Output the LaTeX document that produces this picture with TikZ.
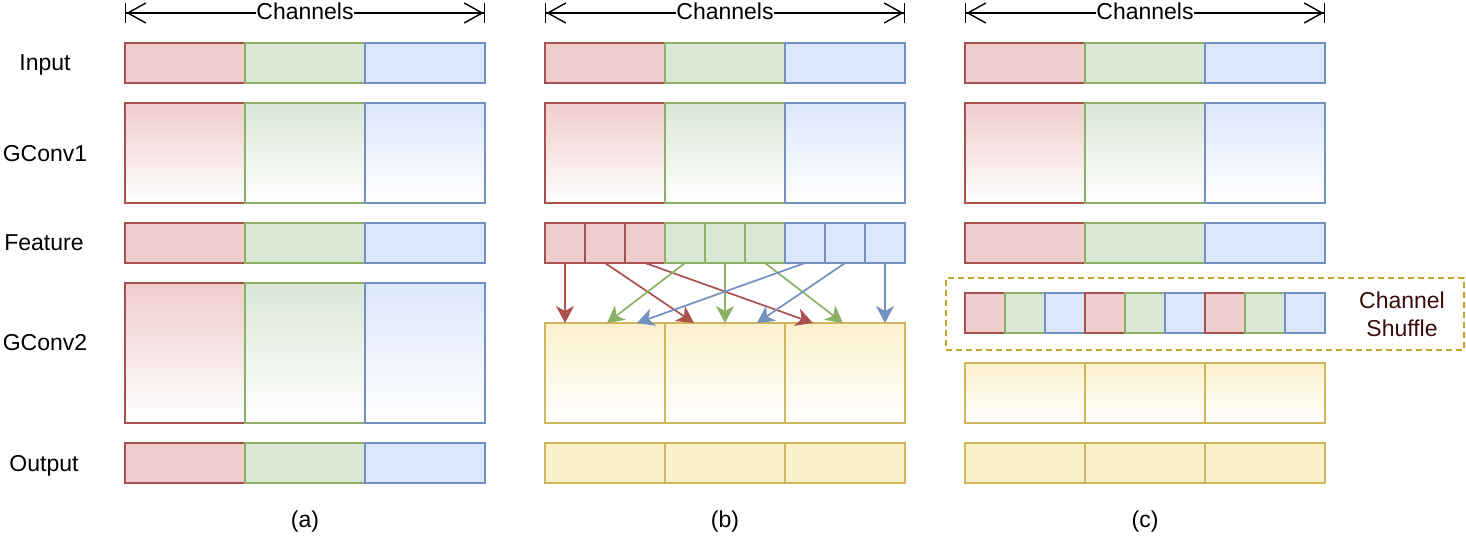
\documentclass[tikz,border=0pt]{standalone}
\usepackage{fontspec}
\setmainfont{Liberation Sans}
\usetikzlibrary{arrows.meta,calc}
\definecolor{rfill}{HTML}{EFCDCC}
\definecolor{rline}{HTML}{A8514F}
\definecolor{gfill}{HTML}{DAE7D5}
\definecolor{gline}{HTML}{8AB166}
\definecolor{bfill}{HTML}{DCE7FB}
\definecolor{bline}{HTML}{7390C0}
\definecolor{yfill}{HTML}{FBF0CC}
\definecolor{yline}{HTML}{D3B65C}
\definecolor{dashcol}{HTML}{C8A02A}
\definecolor{shuftext}{HTML}{3A0B0B}
\tikzset{
  cell/.style 2 args={draw, line width=1.7pt, inner sep=0pt, outer sep=0pt,
    anchor=north west, minimum width=#1pt, minimum height=#2pt},
  rf/.style={draw=rline, fill=rfill},
  gf/.style={draw=gline, fill=gfill},
  bf/.style={draw=bline, fill=bfill},
  yf/.style={draw=yline, fill=yfill},
  rgr/.style={draw=rline, top color=rfill, bottom color=white},
  ggr/.style={draw=gline, top color=gfill, bottom color=white},
  bgr/.style={draw=bline, top color=bfill, bottom color=white},
  ygr/.style={draw=yline, top color=yfill, bottom color=white},
  chanarrow/.style={line width=1.4pt,
    {Bar[width=20pt,line width=1.4pt]Straight Barb[length=18pt,width=20pt,line width=1.4pt]}-{Straight Barb[length=18pt,width=20pt,line width=1.4pt]Bar[width=20pt,line width=1.4pt]}},
  chantext/.style={fill=white, inner sep=0.5pt},
  lbl/.style={inner sep=0pt},
  rowlbl/.style={inner sep=0pt, anchor=base},
  mix/.style={line width=1.7pt, -{Stealth[length=17pt,width=18pt,inset=5pt]}},
}
\begin{document}
\begin{tikzpicture}[x=1pt, y=-1pt, font=\fontsize{23}{28}\selectfont]
\useasboundingbox (0,0) rectangle (1466,546);

% row labels
\node[rowlbl] (lin) at (45,70) {Input};
\node[rowlbl] (lg1) at (45,161) {GConv1};
\node[rowlbl] (lfe) at (44,250) {Feature};
\node[rowlbl] (lg2) at (45,350) {GConv2};
\node[rowlbl] (lout) at (44,471) {Output};

% channel arrows
\foreach \col/\X in {a/125,b/545,c/965} {
  \coordinate (cl\col) at (\X,13);
  \coordinate (cr\col) at (\X+360,13);
  \draw[chanarrow] (cl\col) -- (cr\col);
  \node[chantext] (ct\col) at (\X+180,11.5) {Channels};
}

% Input and GConv1 rows (all columns)
\foreach \col/\X in {a/125,b/545,c/965} {
  \node[cell={120}{40}, rf] (in\col1) at (\X,43) {};
  \node[cell={120}{40}, gf] (in\col2) at (\X+120,43) {};
  \node[cell={120}{40}, bf] (in\col3) at (\X+240,43) {};
  \node[cell={120}{100}, rgr] (ga\col1) at (\X,103) {};
  \node[cell={120}{100}, ggr] (ga\col2) at (\X+120,103) {};
  \node[cell={120}{100}, bgr] (ga\col3) at (\X+240,103) {};
}

% Feature rows (a) and (c)
\foreach \col/\X in {a/125,c/965} {
  \node[cell={120}{40}, rf] (fe\col1) at (\X,223) {};
  \node[cell={120}{40}, gf] (fe\col2) at (\X+120,223) {};
  \node[cell={120}{40}, bf] (fe\col3) at (\X+240,223) {};
}

% (a) GConv2 and Output
\node[cell={120}{140}, rgr] (g2a1) at (125,283) {};
\node[cell={120}{140}, ggr] (g2a2) at (245,283) {};
\node[cell={120}{140}, bgr] (g2a3) at (365,283) {};
\node[cell={120}{40}, rf] (outa1) at (125,443) {};
\node[cell={120}{40}, gf] (outa2) at (245,443) {};
\node[cell={120}{40}, bf] (outa3) at (365,443) {};

% (b) Feature split into 9
\foreach \i/\s in {1/rf,2/rf,3/rf,4/gf,5/gf,6/gf,7/bf,8/bf,9/bf} {
  \node[cell={40}{40}, \s] (fb\i) at (545+40*\i-40,223) {};
}
% (b) GConv2 and Output
\foreach \i in {1,2,3} {
  \node[cell={120}{100}, ygr] (yb\i) at (545+120*\i-120,323) {};
  \node[cell={120}{40}, yf] (outb\i) at (545+120*\i-120,443) {};
}

% (b) mixing arrows
\draw[mix, draw=rline, fill=rline] (fb1.south) -- ($(yb1.north west)+(20,0)$);
\draw[mix, draw=rline, fill=rline] (fb2.south) -- ($(yb2.north west)+(29,0)$);
\draw[mix, draw=rline, fill=rline] (fb3.south) -- ($(yb3.north west)+(28,0)$);
\draw[mix, draw=gline, fill=gline] (fb4.south) -- ($(yb1.north west)+(62,0)$);
\draw[mix, draw=gline, fill=gline] (fb5.south) -- ($(yb2.north west)+(60,0)$);
\draw[mix, draw=gline, fill=gline] (fb6.south) -- ($(yb3.north west)+(58,0)$);
\draw[mix, draw=bline, fill=bline] (fb7.south) -- ($(yb1.north west)+(92,0)$);
\draw[mix, draw=bline, fill=bline] (fb8.south) -- ($(yb2.north west)+(92,0)$);
\draw[mix, draw=bline, fill=bline] (fb9.south) -- ($(yb3.north west)+(100,0)$);

% (c) channel shuffle
\node[draw=dashcol, line width=1.7pt, dash pattern=on 6pt off 4pt, inner sep=0pt,
  anchor=north west, minimum width=518pt, minimum height=72pt] (shufbox) at (945,277) {};
\foreach \i/\s in {1/rf,2/gf,3/bf,4/rf,5/gf,6/bf,7/rf,8/gf,9/bf} {
  \node[cell={40}{40}, \s] (sc\i) at (965+40*\i-40,293) {};
}
\node[lbl, align=center, text=shuftext] (shuflbl) at (1402,314) {Channel\\Shuffle};
\foreach \i in {1,2,3} {
  \node[cell={120}{60}, ygr] (yc\i) at (965+120*\i-120,363) {};
  \node[cell={120}{40}, yf] (outc\i) at (965+120*\i-120,443) {};
}

% captions
\node[lbl] (capa) at (305,522) {(a)};
\node[lbl] (capb) at (725,522) {(b)};
\node[lbl] (capc) at (1145,522) {(c)};
\end{tikzpicture}
\end{document}
